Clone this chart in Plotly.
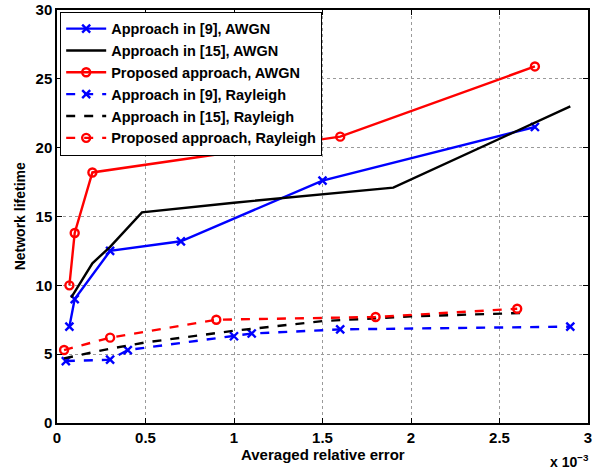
import plotly.graph_objects as go

# x values are in units of 1e-3
x_a9_awgn = [0.07, 0.1, 0.3, 0.7, 1.5, 2.7]
y_a9_awgn = [7.0, 9.0, 12.5, 13.2, 17.6, 21.5]

x_a15_awgn = [0.08, 0.2, 0.3, 0.48, 1.0, 1.9, 2.9]
y_a15_awgn = [9.1, 11.6, 12.8, 15.3, 16.0, 17.1, 23.0]

x_prop_awgn = [0.07, 0.1, 0.2, 1.6, 2.7]
y_prop_awgn = [10.0, 13.8, 18.2, 20.8, 25.9]

x_a9_ray = [0.05, 0.3, 0.4, 1.0, 1.1, 1.6, 2.9]
y_a9_ray = [4.5, 4.6, 5.3, 6.3, 6.5, 6.8, 7.0]

x_a15_ray = [0.04, 0.3, 0.5, 1.0, 1.5, 2.0, 2.65]
y_a15_ray = [4.7, 5.4, 5.85, 6.7, 7.4, 7.75, 8.0]

x_prop_ray = [0.04, 0.3, 0.9, 1.8, 2.6]
y_prop_ray = [5.3, 6.2, 7.5, 7.7, 8.3]

names = ["Approach in [9], AWGN", "Approach in [15], AWGN", "Proposed approach, AWGN",
         "Approach in [9], Rayleigh", "Approach in [15], Rayleigh", "Proposed approach, Rayleigh"]

x_ticks = [0, 0.5, 1, 1.5, 2, 2.5, 3]
x_ticklabels = ["0", "0.5", "1", "1.5", "2", "2.5", "3"]
y_ticks = [0, 5, 10, 15, 20, 25, 30]

BLUE, BLACK, RED = "#0000ff", "#000000", "#ff0000"
series = [
    (x_a9_awgn, y_a9_awgn, BLUE, "solid", "x-thin-open"),
    (x_a15_awgn, y_a15_awgn, BLACK, "solid", None),
    (x_prop_awgn, y_prop_awgn, RED, "solid", "circle-open"),
    (x_a9_ray, y_a9_ray, BLUE, "dash", "x-thin-open"),
    (x_a15_ray, y_a15_ray, BLACK, "dash", None),
    (x_prop_ray, y_prop_ray, RED, "dash", "circle-open"),
]

fig = go.Figure()
for (xs, ys, c, dash, sym), nm in zip(series, names):
    if sym:
        fig.add_trace(go.Scatter(x=xs, y=ys, name=nm, mode="lines+markers",
                                 line=dict(color=c, width=2.4, dash=dash),
                                 marker=dict(symbol=sym, size=8, color=c,
                                             line=dict(color=c, width=2.4))))
    else:
        fig.add_trace(go.Scatter(x=xs, y=ys, name=nm, mode="lines",
                                 line=dict(color=c, width=2.4, dash=dash)))

FONT = "Liberation Sans"
axis_font = dict(family=FONT, size=15, color="black")
fig.update_layout(
    width=608, height=470,
    margin=dict(l=57, r=20, t=10, b=47),
    paper_bgcolor="white", plot_bgcolor="white",
    font=dict(family=FONT, color="black"),
    showlegend=True,
    legend=dict(x=0.006, y=0.996, xanchor="left", yanchor="top",
                bgcolor="white", bordercolor="black", borderwidth=1,
                font=dict(family=FONT, size=14.5, color="black", weight="bold"),
                itemwidth=40, tracegroupgap=0),
    xaxis=dict(range=[0, 3], tickvals=x_ticks, ticktext=["<b>%s</b>" % t for t in x_ticklabels],
               showgrid=True, gridcolor="#9a9a9a", griddash="dot", gridwidth=1,
               showline=True, linecolor="black", linewidth=1.5, mirror="ticks",
               ticks="inside", ticklen=5, tickcolor="black",
               tickfont=axis_font, zeroline=False, automargin=False),
    yaxis=dict(range=[0, 30], tickvals=y_ticks, ticktext=["<b>%d</b>" % t for t in y_ticks],
               showgrid=True, gridcolor="#9a9a9a", griddash="dot", gridwidth=1,
               showline=True, linecolor="black", linewidth=1.5, mirror="ticks",
               ticks="inside", ticklen=5, tickcolor="black",
               tickfont=axis_font, zeroline=False, automargin=False),
)
fig.add_annotation(x=0.5, y=-0.05, xref="paper", yref="paper", xanchor="center", yanchor="top",
                   text="<b>Averaged relative error</b>", showarrow=False,
                   font=dict(family=FONT, size=15, color="black"))
fig.add_annotation(x=-0.07, y=0.5, xref="paper", yref="paper", xanchor="center", yanchor="middle",
                   text="<b>Network lifetime</b>", showarrow=False, textangle=-90,
                   font=dict(family=FONT, size=14, color="black"))
fig.add_annotation(x=1.005, y=-0.065, xref="paper", yref="paper", xanchor="right", yanchor="top",
                   text="<b>x 10<sup>−3</sup></b>", showarrow=False,
                   font=dict(family=FONT, size=14, color="black"))
# remove the default 8px page margin so the figure fills the window exactly
fig.write_html("out.html", config={"displayModeBar": False},
               post_script="document.body.style.margin='0';")
